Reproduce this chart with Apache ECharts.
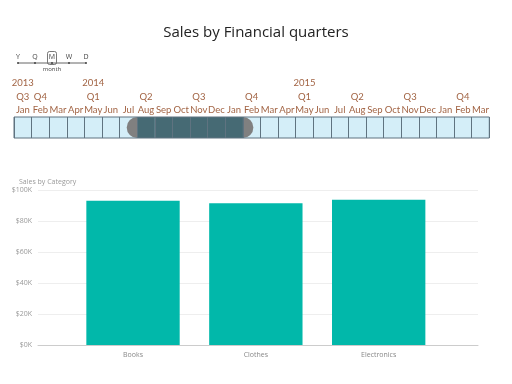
<!DOCTYPE html>
<html>
<head>
<meta charset="utf-8">
<script src="https://cdn.jsdelivr.net/npm/echarts@6/dist/echarts.min.js"></script>
<style>html,body{margin:0;padding:0;background:#fff}#c{width:512px;height:384px}</style>
</head>
<body>
<div id="c"></div>
<script>
// ---- Data ----
var months = ['Jan','Feb','Mar','Apr','May','Jun','Jul','Aug','Sep','Oct','Nov','Dec','Jan','Feb','Mar','Apr','May','Jun','Jul','Aug','Sep','Oct','Nov','Dec','Jan','Feb','Mar'];
var quarterLabels = ['Q3','Q4','','','Q1','','','Q2','','','Q3','','','Q4','','','Q1','','','Q2','','','Q3','','','Q4',''];
var yearLabels = ['2013','','','','2014','','','','','','','','','','','','2015','','','','','','','','','',''];
var selectedRange = [7, 13]; // selected months: index 7 (Aug) up to, not including, 13
var granularity = ['Y','Q','M','W','D'];
var categories = ['Books','Clothes','Electronics'];
var sales = [93100, 91400, 93700];
var yTicks = [0, 20000, 40000, 60000, 80000, 100000];

var FONT = 'Open Sans';
var TLFONT = 'Lato';
var txtColor = '#a26444';
var lineColor = '#5f7380';
var cellData = months.map(function(){ return 1; });
var selData = months.map(function(m, i){ return (i >= selectedRange[0] && i < selectedRange[1]) ? 1 : '-'; });

var chart = echarts.init(document.getElementById('c'));
var gx = [18, 35, 52, 69, 86];
var graphics = [
  {type:'line', shape:{x1:gx[0], y1:63, x2:gx[4], y2:63}, style:{stroke:'#666', lineWidth:1}}
];
granularity.forEach(function(g, i){
  graphics.push({type:'text', style:{text:g, x:gx[i], y:57, align:'center', verticalAlign:'middle', font:'7px ' + FONT, fill:'#444'}});
  graphics.push({type:'circle', shape:{cx:gx[i], cy:63, r:1}, style:{fill:'#444'}});
});
graphics.push({type:'rect', shape:{x:gx[2]-4.5, y:51.5, width:9, height:13, r:2}, style:{fill:'none', stroke:'#555', lineWidth:0.8}});
graphics.push({type:'text', style:{text:'month', x:gx[2], y:69.5, align:'center', verticalAlign:'middle', font:'6px ' + FONT, fill:'#444'}});

var tlLabel = {interval:0, color:txtColor, fontSize:9.5, margin:2, fontFamily:TLFONT};

chart.setOption({
  animation: false,
  textStyle: {fontFamily: FONT},
  title: [
    {text:'Sales by Financial quarters', left:'center', top:20, textStyle:{fontSize:15, fontWeight:'normal', color:'#222', fontFamily:FONT}},
    {text:'Sales by Category', left:14, top:173, textStyle:{fontSize:7, fontWeight:'normal', color:'#999', fontFamily:FONT}}
  ],
  graphic: graphics,
  grid: [
    {left:14, right:22.7, top:117, height:21, show:true, borderColor:lineColor, borderWidth:1, z:5},
    {left:38, right:34, top:190, bottom:39},
    {left:71.6, right:71.9, top:190, bottom:39}
  ],
  xAxis: [
    {type:'category', gridIndex:0, data:months, position:'top', axisLine:{show:false}, axisTick:{show:false}, z:5,
     splitLine:{show:true, interval:0, lineStyle:{color:lineColor, width:1}}, axisLabel:tlLabel},
    {type:'category', gridIndex:0, data:quarterLabels, position:'top', offset:13, axisLine:{show:false}, axisTick:{show:false}, axisLabel:tlLabel},
    {type:'category', gridIndex:0, data:yearLabels, position:'top', offset:27, axisLine:{show:false}, axisTick:{show:false}, axisLabel:tlLabel},
    {type:'value', gridIndex:0, min:0, max:months.length, show:false},
    {type:'category', gridIndex:1, data:categories, axisLine:{lineStyle:{color:'#ccc'}}, axisTick:{show:false}, axisLabel:{show:false}},
    {type:'category', gridIndex:2, data:categories, axisLine:{show:false}, axisTick:{show:false},
     axisLabel:{color:'#888', fontSize:7, margin:6, fontFamily:FONT}}
  ],
  yAxis: [
    {type:'value', gridIndex:0, min:0, max:1, show:false},
    {type:'value', gridIndex:1, min:yTicks[0], max:yTicks[yTicks.length-1], interval:yTicks[1]-yTicks[0],
     axisLine:{show:false}, axisTick:{show:false},
     axisLabel:{color:'#999', fontSize:7, margin:6, fontFamily:FONT, formatter:function(v){return '$' + (v/1000) + 'K';}},
     splitLine:{lineStyle:{color:'#eeeeee'}}},
    {type:'value', gridIndex:2, min:yTicks[0], max:yTicks[yTicks.length-1], show:false}
  ],
  series: [
    {type:'bar', xAxisIndex:0, yAxisIndex:0, data:cellData, barCategoryGap:0, barGap:'-100%', z:1,
     itemStyle:{color:'#d4eef8'}},
    {type:'scatter', xAxisIndex:3, yAxisIndex:0, data:selectedRange.map(function(v){return [v, 0.5];}),
     symbol:'circle', symbolSize:21, itemStyle:{color:'#808080', opacity:1}, z:2},
    {type:'bar', xAxisIndex:0, yAxisIndex:0, data:selData, barCategoryGap:0, barGap:'-100%', z:3,
     itemStyle:{color:'#466a74'}},
    {type:'bar', xAxisIndex:5, yAxisIndex:2, data:sales, barCategoryGap:'24%',
     itemStyle:{color:'#01b8aa'}}
  ]
});
</script>
</body>
</html>
